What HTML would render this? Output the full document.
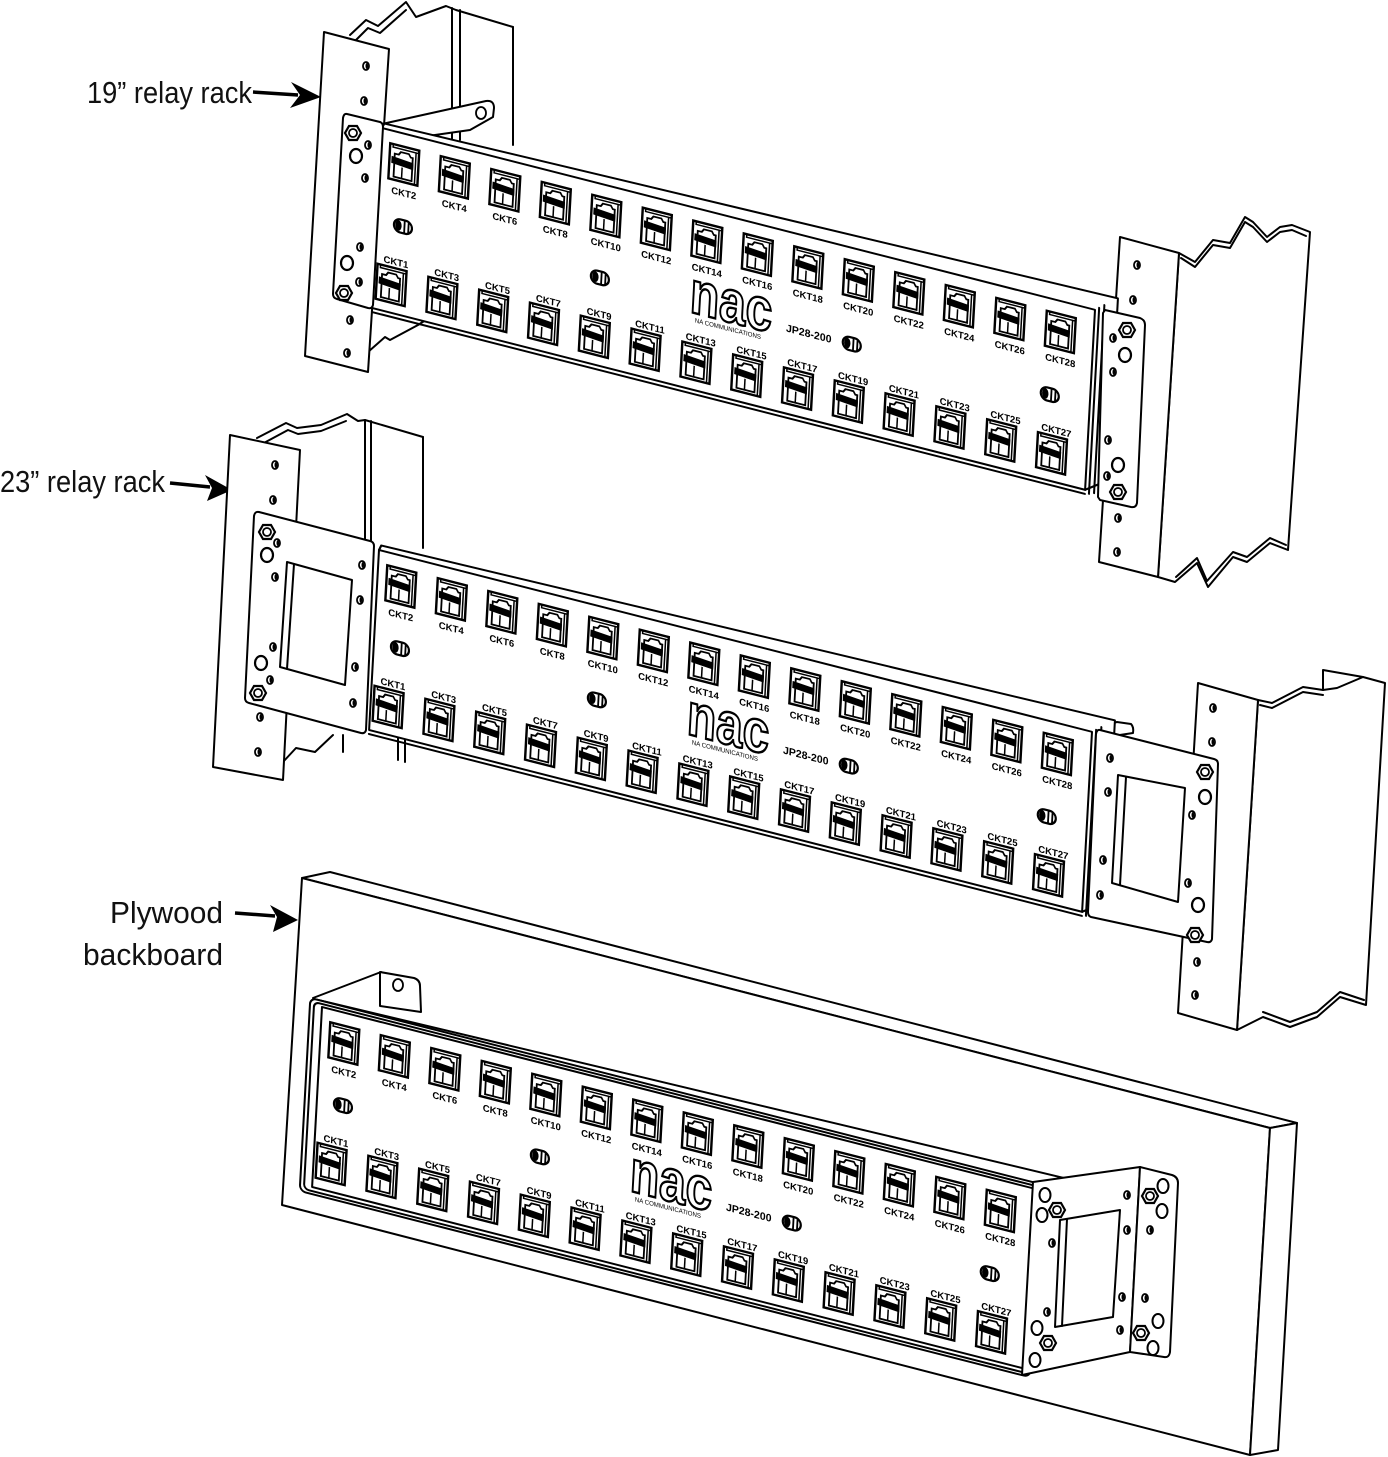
<!DOCTYPE html>
<html>
<head>
<meta charset="utf-8">
<style>
html,body{margin:0;padding:0;background:#fff;}
svg{display:block;}
.l{fill:none;stroke:#000;stroke-width:2;stroke-linejoin:round;stroke-linecap:round;}
.w{fill:#fff;stroke:#000;stroke-width:2;stroke-linejoin:round;}
.lab{font-family:"Liberation Sans",Arial,sans-serif;font-size:31px;fill:#111;}
.ck{font-family:"Liberation Sans",Arial,sans-serif;font-weight:bold;font-size:9.5px;text-anchor:middle;fill:#000;}
.nac{font-family:"Liberation Sans",Arial,sans-serif;font-weight:bold;font-size:60px;text-anchor:middle;fill:#fff;stroke:#000;stroke-width:2.4;}
.na{font-family:"Liberation Sans",Arial,sans-serif;font-size:6.5px;text-anchor:middle;fill:#000;}
.jp{font-family:"Liberation Sans",Arial,sans-serif;font-weight:bold;font-size:10.5px;text-anchor:middle;fill:#000;}
</style>
</head>
<body>
<svg width="1388" height="1457" viewBox="0 0 1388 1457" xmlns="http://www.w3.org/2000/svg">
<defs>
<g id="j">
<rect x="-14" y="-17" width="29" height="35" fill="#fff" stroke="#000" stroke-width="2.4"/>
<path d="M-11,-17 V-14 H15 M12,-14 V18" fill="none" stroke="#000" stroke-width="1.5"/>
<path d="M-9,15 V-8 H-5 L-3,-11 H5 L7,-8 H9 V15 Z" fill="none" stroke="#000" stroke-width="1.8"/>
<path d="M-12,-5 L10,-3 L10,4 L-12,2 Z" fill="#000"/>
<path d="M-1,4 V15" stroke="#000" stroke-width="1.5"/>
</g>
<g id="led">
<rect x="-9" y="-6.5" width="18" height="13" rx="6.5" fill="#fff" stroke="#000" stroke-width="2.2"/>
<ellipse cx="-4.5" cy="0" rx="3.2" ry="5.2" fill="#000"/>
<path d="M1.5,-6 V6 M5.5,-6 V6" stroke="#000" stroke-width="1.8"/>
</g>
<g id="nut">
<polygon points="8,0 4,-7 -4,-7 -8,0 -4,7 4,7" fill="#fff" stroke="#000" stroke-width="2.2"/>
<circle r="4" fill="none" stroke="#000" stroke-width="1.8"/>
</g>
<g id="bh"><ellipse rx="6" ry="7" fill="#fff" stroke="#000" stroke-width="2.2"/></g>
<g id="sh"><ellipse rx="3" ry="4" fill="#fff" stroke="#000" stroke-width="1.8"/><ellipse cx="0.8" rx="1.3" ry="3" fill="#000"/></g>
<g id="ov"><ellipse rx="5.5" ry="7" fill="#fff" stroke="#000" stroke-width="2"/></g>
</defs>

<!-- Labels and arrows -->
<text class="lab" x="87" y="103" textLength="165" lengthAdjust="spacingAndGlyphs">19” relay rack</text>
<path d="M253,92 L298,95" stroke="#000" stroke-width="3.5" fill="none"/>
<path d="M321,97 L291,82 L300,95 L290,108 Z" fill="#000"/>

<text class="lab" x="0" y="492" textLength="165" lengthAdjust="spacingAndGlyphs">23” relay rack</text>
<path d="M170,483 L210,487" stroke="#000" stroke-width="3.5" fill="none"/>
<path d="M232,490 L205,475 L212,488 L207,501 Z" fill="#000"/>

<text class="lab" x="110" y="923" textLength="113" lengthAdjust="spacingAndGlyphs">Plywood</text>
<text class="lab" x="83" y="965" textLength="140" lengthAdjust="spacingAndGlyphs">backboard</text>
<path d="M235,913 L275,916" stroke="#000" stroke-width="3.5" fill="none"/>
<path d="M298,920 L270,905 L277,917 L273,932 Z" fill="#000"/>

<!-- ================= PANEL 1 ================= -->
<path class="l" d="M350,35 L366,20 L378,26 L406,2 L416,17 L446,6 L456,10 L513,27"/>
<path class="l" d="M354,42 L368,28 L380,33 L406,10" stroke-width="1.4"/>
<path class="l" d="M452,8 V140 M460,10 V140 M513,27 V145"/>
<path class="l" d="M368,352 L385,337 L390,340 L418,325 L432,316"/>
<polygon class="w" points="324,32 389,49 368,372 305,356"/>
<use href="#sh" x="366" y="66"/><use href="#sh" x="364" y="101"/><use href="#sh" x="350" y="320"/><use href="#sh" x="347" y="353"/>
<path class="w" d="M382,124 L486,101 Q494,100 494,108 L493,117 L470,130 L400,140 Z"/>
<ellipse cx="481" cy="113" rx="5" ry="6" fill="#fff" stroke="#000" stroke-width="1.8"/>
<path class="w" d="M1179,253 L1195,262 L1213,240 L1230,243 L1245,217 L1253,222 L1267,237 L1280,227 L1292,225 L1310,232 L1288,550 L1270,543 L1247,562 L1233,557 L1208,587 L1197,563 L1175,582 L1158,577 Z"/>
<path class="l" d="M1181,258 L1195,267 L1213,245 L1230,248 L1245,222 L1253,227 L1267,242 L1280,232 L1292,230 L1306,236" stroke-width="1.4"/>
<path class="l" d="M1176,577 L1197,558 L1207,581 L1233,552 L1247,557 L1270,538 L1286,545" stroke-width="1.4"/>
<polygon class="w" points="1120,237 1179,253 1158,577 1099,562"/>
<use href="#sh" x="1137" y="265"/><use href="#sh" x="1133" y="300"/><use href="#sh" x="1118" y="518"/><use href="#sh" x="1117" y="552"/>

<g transform="matrix(1,0.255,-0.055,1,382,128)">
<path class="w" d="M0,0 L2,-5 L735,-17 L735,165 L713,180 Z"/>
<rect class="w" x="0" y="0" width="713" height="180"/>
<path class="l" d="M0,184 L713,184 M717,-3 V183 M722,-7 V181"/>
<use href="#j" x="23" y="30"/><use href="#j" x="73.5" y="30"/><use href="#j" x="124" y="30"/><use href="#j" x="174.5" y="30"/><use href="#j" x="225" y="30"/><use href="#j" x="275.5" y="30"/><use href="#j" x="326" y="30"/><use href="#j" x="376.5" y="30"/><use href="#j" x="427" y="30"/><use href="#j" x="477.5" y="30"/><use href="#j" x="528" y="30"/><use href="#j" x="578.5" y="30"/><use href="#j" x="629" y="30"/><use href="#j" x="679.5" y="30"/>
<use href="#j" x="17" y="152"/><use href="#j" x="67.8" y="152"/><use href="#j" x="118.6" y="152"/><use href="#j" x="169.4" y="152"/><use href="#j" x="220.2" y="152"/><use href="#j" x="271" y="152"/><use href="#j" x="321.8" y="152"/><use href="#j" x="372.6" y="152"/><use href="#j" x="423.4" y="152"/><use href="#j" x="474.2" y="152"/><use href="#j" x="525" y="152"/><use href="#j" x="575.8" y="152"/><use href="#j" x="626.6" y="152"/><use href="#j" x="677.4" y="152"/>
<text class="ck" x="25" y="62">CKT2</text><text class="ck" x="75.5" y="62">CKT4</text><text class="ck" x="126" y="62">CKT6</text><text class="ck" x="176.5" y="62">CKT8</text><text class="ck" x="227" y="62">CKT10</text><text class="ck" x="277.5" y="62">CKT12</text><text class="ck" x="328" y="62">CKT14</text><text class="ck" x="378.5" y="62">CKT16</text><text class="ck" x="429" y="62">CKT18</text><text class="ck" x="479.5" y="62">CKT20</text><text class="ck" x="530" y="62">CKT22</text><text class="ck" x="580.5" y="62">CKT24</text><text class="ck" x="631" y="62">CKT26</text><text class="ck" x="681.5" y="62">CKT28</text>
<text class="ck" x="21" y="132">CKT1</text><text class="ck" x="71.8" y="132">CKT3</text><text class="ck" x="122.6" y="132">CKT5</text><text class="ck" x="173.4" y="132">CKT7</text><text class="ck" x="224.2" y="132">CKT9</text><text class="ck" x="275" y="132">CKT11</text><text class="ck" x="325.8" y="132">CKT13</text><text class="ck" x="376.6" y="132">CKT15</text><text class="ck" x="427.4" y="132">CKT17</text><text class="ck" x="478.2" y="132">CKT19</text><text class="ck" x="529" y="132">CKT21</text><text class="ck" x="579.8" y="132">CKT23</text><text class="ck" x="630.6" y="132">CKT25</text><text class="ck" x="681.4" y="132">CKT27</text>
<use href="#led" x="26" y="92"/><use href="#led" x="223" y="93"/><use href="#led" x="475" y="95"/><use href="#led" x="673" y="95"/>
<text class="nac" x="354" y="104" textLength="82" lengthAdjust="spacingAndGlyphs">nac</text>
<text class="na" x="352" y="113" textLength="66" lengthAdjust="spacingAndGlyphs">NA COMMUNICATIONS</text>
<text class="jp" x="432" y="99">JP28-200</text>
</g>

<path class="w" d="M347,114 L380,122 Q383,123 383,127 L373,305 Q372,309 368,308 L337,299 Q333,298 333,294 L343,118 Q344,113 347,114 Z"/>
<use href="#nut" x="353" y="133"/><use href="#nut" x="344" y="293"/>
<use href="#bh" x="356" y="156"/><use href="#bh" x="347" y="263"/>
<use href="#sh" x="368" y="145"/><use href="#sh" x="365" y="178"/><use href="#sh" x="360" y="247"/><use href="#sh" x="359" y="282"/>
<path class="w" d="M1105,310 L1140,318 Q1145,320 1145,325 L1137,503 Q1136,508 1131,507 L1100,500 L1098,497 L1103,313 Z"/>
<use href="#nut" x="1127" y="330"/><use href="#nut" x="1118" y="492"/>
<use href="#bh" x="1125" y="355"/><use href="#bh" x="1118" y="465"/>
<use href="#sh" x="1113" y="338"/><use href="#sh" x="1113" y="372"/><use href="#sh" x="1108" y="440"/><use href="#sh" x="1107" y="476"/>

<!-- ================= PANEL 2 ================= -->
<path class="l" d="M257,438 L286,423 L297,428 L321,425 L347,414 L358,421 L365,420 L423,437"/>
<path class="l" d="M262,444 L288,430 L298,434 L321,431 L346,421" stroke-width="1.4"/>
<path class="l" d="M365,420 V545 M371,421 V545 M423,437 V548"/>
<path class="l" d="M283,762 L296,748 L315,752 L333,735 M343,735 V752 M398,735 V760 M405,738 V762"/>
<polygon class="w" points="230,435 300,450 283,780 213,767"/>
<use href="#sh" x="275" y="465"/><use href="#sh" x="273" y="500"/><use href="#sh" x="260" y="717"/><use href="#sh" x="258" y="752"/>
<path class="w" d="M1258,700 L1272,703 L1303,687 L1323,690 L1337,688 L1363,677 L1385,683 L1366,1005 L1340,997 L1317,1017 L1290,1027 L1263,1017 L1237,1030 Z"/>
<path class="l" d="M1323,670 V690 M1323,670 L1363,677" stroke-width="1.6"/>
<path class="l" d="M1260,705 L1272,708 L1303,692 L1323,695" stroke-width="1.4"/>
<path class="l" d="M1263,1012 L1290,1022 L1317,1012 L1340,992 L1364,1000" stroke-width="1.4"/>
<polygon class="w" points="1198,683 1258,700 1237,1030 1178,1013"/>
<use href="#sh" x="1213" y="708"/><use href="#sh" x="1212" y="742"/><use href="#sh" x="1197" y="962"/><use href="#sh" x="1195" y="995"/>
<path class="w" d="M1093,728 L1117,722 L1131,724 Q1134,727 1133,733 L1100,738 Z"/>

<g transform="matrix(1,0.255,-0.055,1,379,550)">
<path class="w" d="M0,0 L2,-5 L735,-17 L735,165 L713,180 Z"/>
<rect class="w" x="0" y="0" width="713" height="180"/>
<path class="l" d="M0,184 L713,184 M717,-3 V183 M722,-7 V181"/>
<use href="#j" x="23" y="30"/><use href="#j" x="73.5" y="30"/><use href="#j" x="124" y="30"/><use href="#j" x="174.5" y="30"/><use href="#j" x="225" y="30"/><use href="#j" x="275.5" y="30"/><use href="#j" x="326" y="30"/><use href="#j" x="376.5" y="30"/><use href="#j" x="427" y="30"/><use href="#j" x="477.5" y="30"/><use href="#j" x="528" y="30"/><use href="#j" x="578.5" y="30"/><use href="#j" x="629" y="30"/><use href="#j" x="679.5" y="30"/>
<use href="#j" x="17" y="152"/><use href="#j" x="67.8" y="152"/><use href="#j" x="118.6" y="152"/><use href="#j" x="169.4" y="152"/><use href="#j" x="220.2" y="152"/><use href="#j" x="271" y="152"/><use href="#j" x="321.8" y="152"/><use href="#j" x="372.6" y="152"/><use href="#j" x="423.4" y="152"/><use href="#j" x="474.2" y="152"/><use href="#j" x="525" y="152"/><use href="#j" x="575.8" y="152"/><use href="#j" x="626.6" y="152"/><use href="#j" x="677.4" y="152"/>
<text class="ck" x="25" y="62">CKT2</text><text class="ck" x="75.5" y="62">CKT4</text><text class="ck" x="126" y="62">CKT6</text><text class="ck" x="176.5" y="62">CKT8</text><text class="ck" x="227" y="62">CKT10</text><text class="ck" x="277.5" y="62">CKT12</text><text class="ck" x="328" y="62">CKT14</text><text class="ck" x="378.5" y="62">CKT16</text><text class="ck" x="429" y="62">CKT18</text><text class="ck" x="479.5" y="62">CKT20</text><text class="ck" x="530" y="62">CKT22</text><text class="ck" x="580.5" y="62">CKT24</text><text class="ck" x="631" y="62">CKT26</text><text class="ck" x="681.5" y="62">CKT28</text>
<text class="ck" x="21" y="132">CKT1</text><text class="ck" x="71.8" y="132">CKT3</text><text class="ck" x="122.6" y="132">CKT5</text><text class="ck" x="173.4" y="132">CKT7</text><text class="ck" x="224.2" y="132">CKT9</text><text class="ck" x="275" y="132">CKT11</text><text class="ck" x="325.8" y="132">CKT13</text><text class="ck" x="376.6" y="132">CKT15</text><text class="ck" x="427.4" y="132">CKT17</text><text class="ck" x="478.2" y="132">CKT19</text><text class="ck" x="529" y="132">CKT21</text><text class="ck" x="579.8" y="132">CKT23</text><text class="ck" x="630.6" y="132">CKT25</text><text class="ck" x="681.4" y="132">CKT27</text>
<use href="#led" x="26" y="92"/><use href="#led" x="223" y="93"/><use href="#led" x="475" y="95"/><use href="#led" x="673" y="95"/>
<text class="nac" x="354" y="104" textLength="82" lengthAdjust="spacingAndGlyphs">nac</text>
<text class="na" x="352" y="113" textLength="66" lengthAdjust="spacingAndGlyphs">NA COMMUNICATIONS</text>
<text class="jp" x="432" y="99">JP28-200</text>
</g>

<path class="w" d="M259,512 L370,541 Q374,542 374,546 L366,730 Q365,734 361,733 L249,703 Q245,702 245,698 L254,516 Q255,511 259,512 Z"/>
<polygon class="w" points="287,562 352,580 345,685 280,667"/>
<path class="l" d="M294,564 L287,669" stroke-width="1.6"/>
<use href="#nut" x="267" y="532"/><use href="#nut" x="258" y="693"/>
<use href="#bh" x="267" y="555"/><use href="#bh" x="261" y="663"/>
<use href="#sh" x="277" y="543"/><use href="#sh" x="275" y="577"/><use href="#sh" x="273" y="647"/><use href="#sh" x="270" y="680"/>
<use href="#sh" x="362" y="565"/><use href="#sh" x="360" y="600"/><use href="#sh" x="355" y="667"/><use href="#sh" x="353" y="703"/>
<path class="w" d="M1100,730 L1214,759 Q1218,760 1218,764 L1212,939 Q1211,943 1207,942 L1091,917 Q1088,916 1088,912 L1096,734 Q1097,729 1100,730 Z"/>
<polygon class="w" points="1118,775 1185,788 1178,902 1112,883"/>
<path class="l" d="M1126,777 L1120,885" stroke-width="1.6"/>
<use href="#nut" x="1205" y="772"/><use href="#nut" x="1195" y="935"/>
<use href="#bh" x="1205" y="797"/><use href="#bh" x="1198" y="905"/>
<use href="#sh" x="1192" y="815"/><use href="#sh" x="1188" y="883"/>
<use href="#sh" x="1110" y="758"/><use href="#sh" x="1108" y="792"/><use href="#sh" x="1103" y="860"/><use href="#sh" x="1100" y="895"/>

<!-- ================= PANEL 3 (plywood) ================= -->
<polygon class="w" points="302,878 330,872 1297,1123 1270,1128"/>
<polygon class="w" points="302,878 1270,1128 1250,1455 282,1205"/>
<polygon class="w" points="1270,1128 1297,1123 1278,1450 1250,1455"/>
<path class="w" d="M380,972 L414,978 Q420,980 420,986 L421,1012 L380,1006 Z"/>
<ellipse cx="398" cy="985" rx="5" ry="6" fill="#fff" stroke="#000" stroke-width="1.8"/>
<path class="l" d="M313,998 L381,972"/>

<g transform="matrix(1,0.255,-0.055,1,322,1007)">
<path class="w" d="M-8,-6 L742,-18 L742,10 L718,10 Z"/>
<rect class="w" x="-12" y="-6" width="730" height="193" rx="6"/>
<rect class="l" x="-8" y="-3" width="723" height="187" rx="5" stroke-width="1.3"/>
<rect class="w" x="0" y="0" width="713" height="180" stroke-width="1.6"/>
<use href="#j" x="23" y="30"/><use href="#j" x="73.5" y="30"/><use href="#j" x="124" y="30"/><use href="#j" x="174.5" y="30"/><use href="#j" x="225" y="30"/><use href="#j" x="275.5" y="30"/><use href="#j" x="326" y="30"/><use href="#j" x="376.5" y="30"/><use href="#j" x="427" y="30"/><use href="#j" x="477.5" y="30"/><use href="#j" x="528" y="30"/><use href="#j" x="578.5" y="30"/><use href="#j" x="629" y="30"/><use href="#j" x="679.5" y="30"/>
<use href="#j" x="17" y="152"/><use href="#j" x="67.8" y="152"/><use href="#j" x="118.6" y="152"/><use href="#j" x="169.4" y="152"/><use href="#j" x="220.2" y="152"/><use href="#j" x="271" y="152"/><use href="#j" x="321.8" y="152"/><use href="#j" x="372.6" y="152"/><use href="#j" x="423.4" y="152"/><use href="#j" x="474.2" y="152"/><use href="#j" x="525" y="152"/><use href="#j" x="575.8" y="152"/><use href="#j" x="626.6" y="152"/><use href="#j" x="677.4" y="152"/>
<text class="ck" x="25" y="62">CKT2</text><text class="ck" x="75.5" y="62">CKT4</text><text class="ck" x="126" y="62">CKT6</text><text class="ck" x="176.5" y="62">CKT8</text><text class="ck" x="227" y="62">CKT10</text><text class="ck" x="277.5" y="62">CKT12</text><text class="ck" x="328" y="62">CKT14</text><text class="ck" x="378.5" y="62">CKT16</text><text class="ck" x="429" y="62">CKT18</text><text class="ck" x="479.5" y="62">CKT20</text><text class="ck" x="530" y="62">CKT22</text><text class="ck" x="580.5" y="62">CKT24</text><text class="ck" x="631" y="62">CKT26</text><text class="ck" x="681.5" y="62">CKT28</text>
<text class="ck" x="21" y="132">CKT1</text><text class="ck" x="71.8" y="132">CKT3</text><text class="ck" x="122.6" y="132">CKT5</text><text class="ck" x="173.4" y="132">CKT7</text><text class="ck" x="224.2" y="132">CKT9</text><text class="ck" x="275" y="132">CKT11</text><text class="ck" x="325.8" y="132">CKT13</text><text class="ck" x="376.6" y="132">CKT15</text><text class="ck" x="427.4" y="132">CKT17</text><text class="ck" x="478.2" y="132">CKT19</text><text class="ck" x="529" y="132">CKT21</text><text class="ck" x="579.8" y="132">CKT23</text><text class="ck" x="630.6" y="132">CKT25</text><text class="ck" x="681.4" y="132">CKT27</text>
<use href="#led" x="26" y="92"/><use href="#led" x="223" y="93"/><use href="#led" x="475" y="95"/><use href="#led" x="673" y="95"/>
<text class="nac" x="354" y="104" textLength="82" lengthAdjust="spacingAndGlyphs">nac</text>
<text class="na" x="352" y="113" textLength="66" lengthAdjust="spacingAndGlyphs">NA COMMUNICATIONS</text>
<text class="jp" x="432" y="99">JP28-200</text>
</g>

<polygon class="w" points="1033,1182 1140,1167 1130,1352 1022,1375"/>
<path class="w" d="M1140,1167 L1172,1175 Q1178,1177 1178,1183 L1170,1352 Q1169,1358 1164,1357 L1130,1352 Z"/>
<polygon class="w" points="1060,1220 1120,1210 1113,1317 1055,1327"/>
<path class="l" d="M1067,1219 L1062,1326" stroke-width="1.6"/>
<use href="#ov" x="1045" y="1195"/><use href="#ov" x="1042" y="1215"/><use href="#ov" x="1037" y="1328"/><use href="#ov" x="1035" y="1360"/>
<use href="#ov" x="1163" y="1186"/><use href="#ov" x="1162" y="1211"/><use href="#ov" x="1158" y="1321"/><use href="#ov" x="1153" y="1348"/>
<use href="#nut" x="1057" y="1210"/><use href="#nut" x="1048" y="1343"/><use href="#nut" x="1150" y="1196"/><use href="#nut" x="1141" y="1333"/>
<use href="#sh" x="1052" y="1243"/><use href="#sh" x="1047" y="1312"/><use href="#sh" x="1127" y="1195"/><use href="#sh" x="1127" y="1230"/><use href="#sh" x="1122" y="1297"/><use href="#sh" x="1120" y="1330"/><use href="#sh" x="1150" y="1230"/><use href="#sh" x="1145" y="1298"/>
</svg>
</body>
</html>
